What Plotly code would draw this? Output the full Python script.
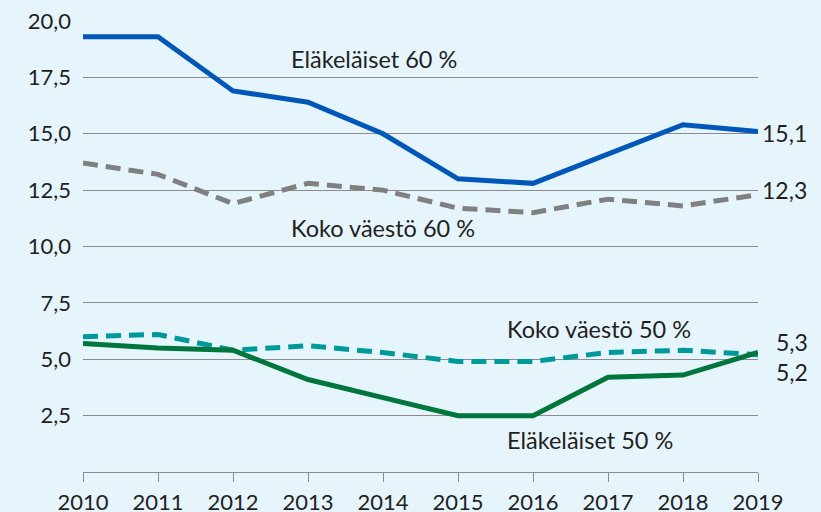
import plotly.graph_objects as go

years = [2010, 2011, 2012, 2013, 2014, 2015, 2016, 2017, 2018, 2019]
elakelaiset_60 = [19.3, 19.3, 16.9, 16.4, 15.0, 13.0, 12.8, 14.1, 15.4, 15.1]
koko_60 = [13.7, 13.2, 11.9, 12.8, 12.5, 11.7, 11.5, 12.1, 11.8, 12.3]
koko_50 = [6.0, 6.1, 5.4, 5.6, 5.3, 4.9, 4.9, 5.3, 5.4, 5.2]
elakelaiset_50 = [5.7, 5.5, 5.4, 4.1, 3.3, 2.5, 2.5, 4.2, 4.3, 5.3]
y_ticks = [2.5, 5.0, 7.5, 10.0, 12.5, 15.0, 17.5, 20.0]

BG = "#e6f5fc"
TXT = "#231f20"
FONT = "Lato"

fig = go.Figure()
fig.add_trace(go.Scatter(x=years, y=koko_60, mode="lines",
                         line=dict(color="#808080", width=5, dash="15px,8px"),
                         name="Koko väestö 60 %"))
fig.add_trace(go.Scatter(x=years, y=elakelaiset_60, mode="lines",
                         line=dict(color="#0057b8", width=5),
                         name="Eläkeläiset 60 %"))
fig.add_trace(go.Scatter(x=years, y=koko_50, mode="lines",
                         line=dict(color="#00999a", width=5, dash="15px,8px"),
                         name="Koko väestö 50 %"))
fig.add_trace(go.Scatter(x=years, y=elakelaiset_50, mode="lines",
                         line=dict(color="#00763d", width=5),
                         name="Eläkeläiset 50 %"))

series_labels = [
    ("Eläkeläiset 60 %", 2012.75, 18.3),
    ("Koko väestö 60 %", 2012.75, 10.8),
    ("Koko väestö 50 %", 2015.63, 6.35),
    ("Eläkeläiset 50 %", 2015.63, 1.4),
]
for text, x, y in series_labels:
    fig.add_annotation(x=x, y=y, text=text, showarrow=False, xanchor="left",
                       yanchor="middle", font=dict(size=23.5, color=TXT, family=FONT))

end_labels = [("15,1", 15.05, 2), ("12,3", 12.5, 2), ("5,3", 5.75, 16), ("5,2", 4.45, 16)]
for text, y, shift in end_labels:
    fig.add_annotation(x=2019, y=y, text=text, showarrow=False, xanchor="left",
                       yanchor="middle", xshift=shift,
                       font=dict(size=23, color=TXT, family=FONT))

fig.update_layout(
    width=821, height=512,
    margin=dict(l=83, r=63, t=21, b=40),
    paper_bgcolor=BG, plot_bgcolor=BG,
    showlegend=False,
    separators=",.",
    font=dict(family=FONT, size=22, color=TXT),
)
fig.update_xaxes(range=[2010, 2019], tickvals=years, showgrid=False,
                 showline=True, linecolor="#8c8c8c", linewidth=1,
                 ticks="outside", ticklen=9, tickcolor="#8c8c8c", tickwidth=1,
                 ticklabelstandoff=2, automargin=False,
                 tickfont=dict(size=22, color=TXT, family=FONT), zeroline=False)
fig.update_yaxes(range=[0, 20], tickvals=y_ticks, tickformat=".1f",
                 showgrid=True, gridcolor="#8c8c8c", gridwidth=1,
                 zeroline=False, showline=False, ticks="",
                 ticklabelstandoff=11, automargin=False,
                 tickfont=dict(size=22, color=TXT, family=FONT))

fig.write_html(
    "out.html",
    config={"displayModeBar": False},
    post_script="document.body.style.margin='0';document.body.style.background='" + BG + "';",
)
